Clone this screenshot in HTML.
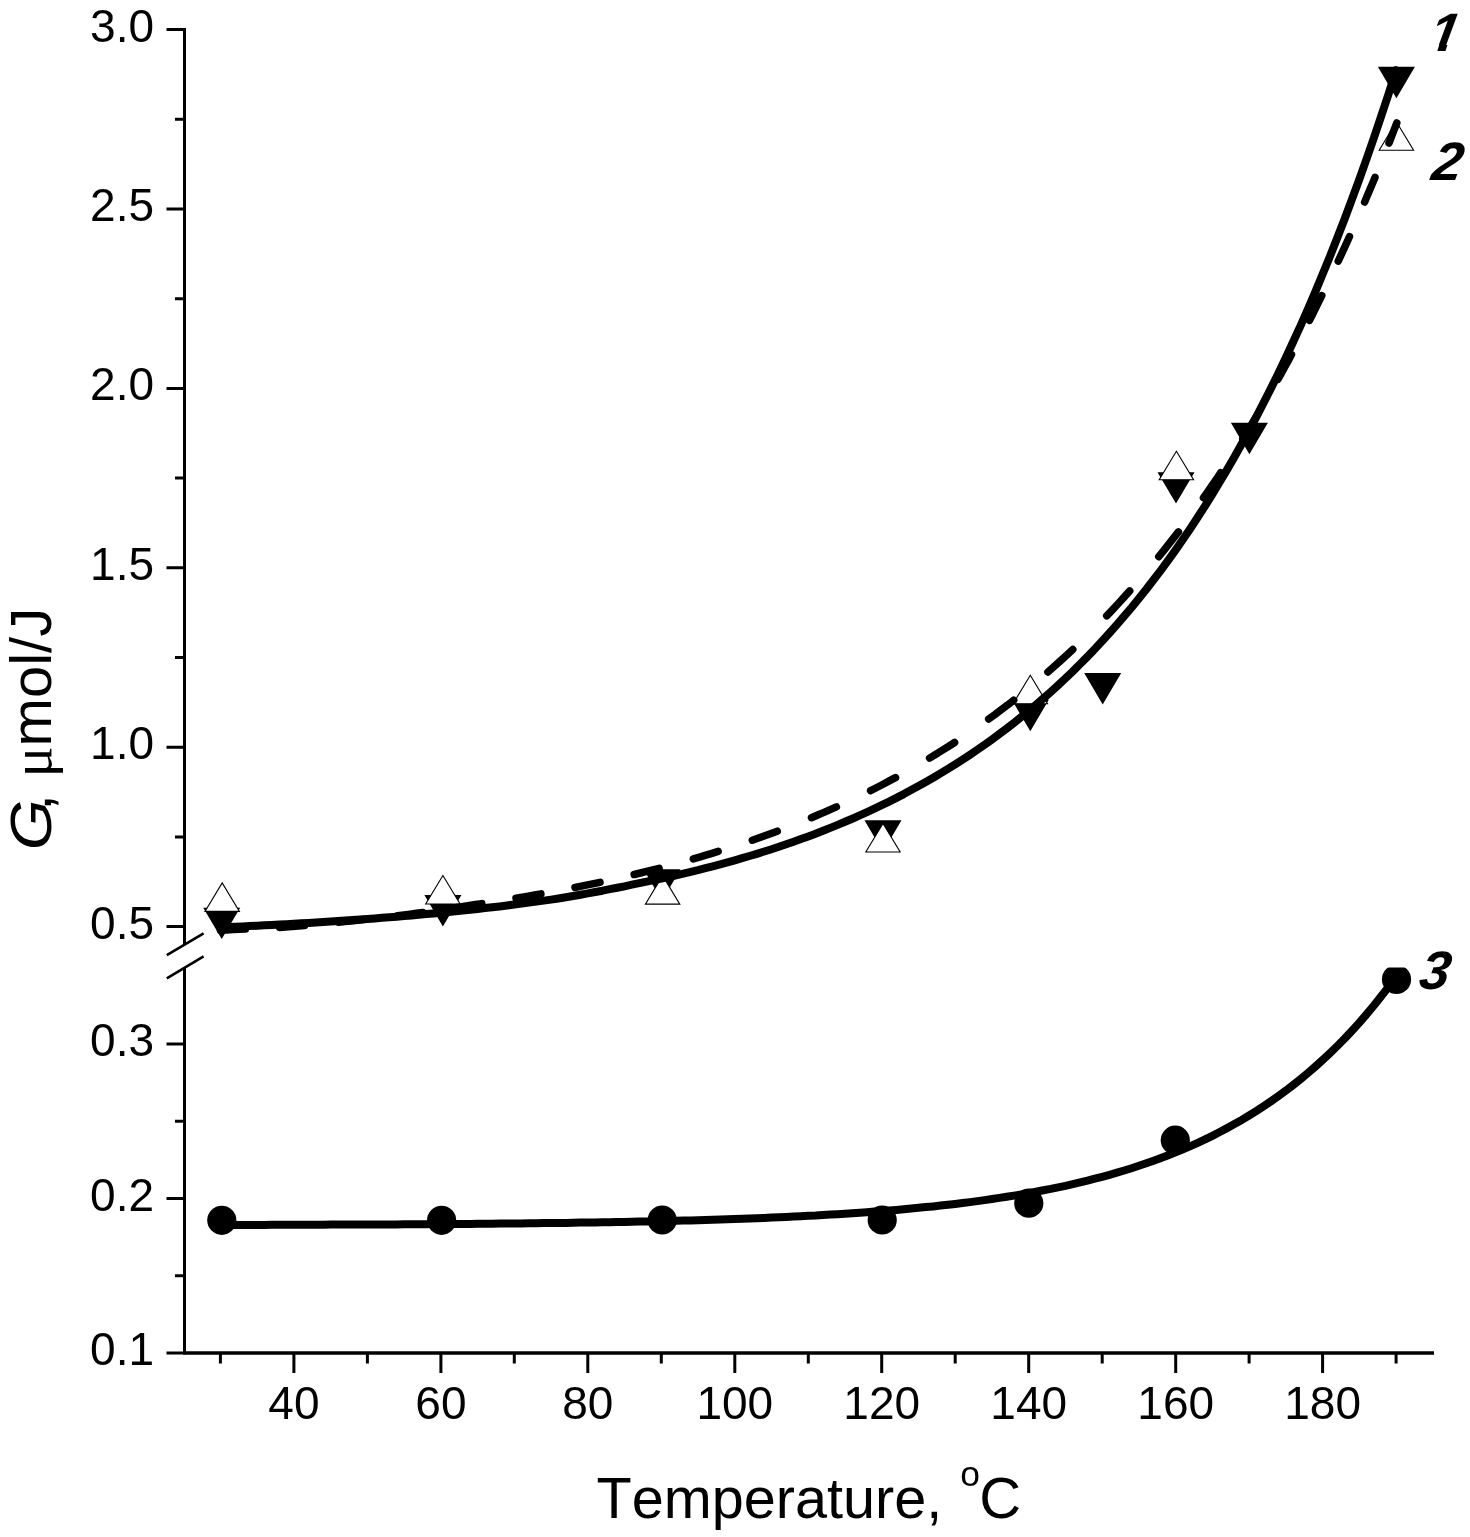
<!DOCTYPE html>
<html lang="en"><head><meta charset="utf-8"><title>G vs Temperature</title>
<style>html,body{margin:0;padding:0;background:#fff;overflow:hidden}svg{display:block}text{font-family:"Liberation Sans",Arial,sans-serif;fill:#000;font-kerning:none;white-space:pre}</style></head><body>
<svg width="1470" height="1537" viewBox="0 0 1470 1537">
<rect width="1470" height="1537" fill="#fff"/>
<g stroke="#000" stroke-width="3" fill="none" stroke-linecap="butt">
<path d="M184.5 28 V944.6 M184.5 967.7 V1354.5"/>
<path d="M183 1353 H1434" stroke-width="3.5"/>
<path d="M166.5 29.5 H183 M166.5 209 H183 M166.5 388.4 H183 M166.5 567.8 H183 M166.5 747.2 H183 M166.5 926.5 H183 M166.5 1044 H183 M166.5 1198.5 H183 M166.5 1353 H183 M175 119.2 H183 M175 298.7 H183 M175 478.1 H183 M175 657.5 H183 M175 836.9 H183 M175 1121.2 H183 M175 1275.8 H183"/>
<path d="M220.4 1354 V1363.5 M293.9 1354 V1373 M367.4 1354 V1363.5 M440.9 1354 V1373 M514.3 1354 V1363.5 M587.8 1354 V1373 M661.3 1354 V1363.5 M734.8 1354 V1373 M808.3 1354 V1363.5 M881.7 1354 V1373 M955.2 1354 V1363.5 M1028.7 1354 V1373 M1102.2 1354 V1363.5 M1175.7 1354 V1373 M1249.1 1354 V1363.5 M1322.6 1354 V1373 M1396.1 1354 V1363.5"/>
</g>
<path d="M166.8 955.2 L203.6 933.3 M166.8 978.4 L203.6 956.4" stroke="#000" stroke-width="2.6" fill="none"/>
<g font-size="46" text-anchor="end">
<text x="154" y="41.5">3.0</text>
<text x="154" y="221">2.5</text>
<text x="154" y="400.4">2.0</text>
<text x="154" y="579.8">1.5</text>
<text x="154" y="759.2">1.0</text>
<text x="154" y="938.5">0.5</text>
<text x="154" y="1056">0.3</text>
<text x="154" y="1210.5">0.2</text>
<text x="154" y="1365">0.1</text>
</g>
<g font-size="46" text-anchor="middle">
<text x="293.9" y="1418.5">40</text>
<text x="440.9" y="1418.5">60</text>
<text x="587.8" y="1418.5">80</text>
<text x="734.8" y="1418.5">100</text>
<text x="881.7" y="1418.5">120</text>
<text x="1028.7" y="1418.5">140</text>
<text x="1175.7" y="1418.5">160</text>
<text x="1322.6" y="1418.5">180</text>
</g>
<text y="1518" font-size="57.6"><tspan x="596.6">Temperature,</tspan><tspan x="960.3" y="1486.3" font-size="35.5">o</tspan><tspan x="979.3" y="1518" font-size="58">C</tspan></text>
<text transform="translate(50.5 850.3) rotate(-90) scale(1.126 1)" font-size="58" font-style="italic">G</text>
<text transform="translate(50.5 810.4) rotate(-90)" font-size="58">,</text>
<text transform="translate(50.5 777.5) rotate(-90)" font-size="58"><tspan font-family="'Liberation Serif','DejaVu Serif',serif">μ</tspan>mol/J</text>
<g fill="#000" stroke="#000" stroke-width="1.5" stroke-linejoin="miter" stroke-miterlimit="10">
<polygon points="204.5,908.4 238.9,908.4 221.7,937.6"/>
<polygon points="425.7,895.8 460.1,895.8 442.9,925"/>
<polygon points="644.8,870 679.2,870 662,899.2"/>
<polygon points="865.8,821 900.2,821 883,850.2"/>
<polygon points="1013.1,700.5 1047.5,700.5 1030.3,729.8"/>
<polygon points="1085.5,673.8 1119.9,673.8 1102.7,703"/>
<polygon points="1158.8,472.9 1193.2,472.9 1176,502.1"/>
<polygon points="1232.2,423.6 1266.6,423.6 1249.4,452.8"/>
<polygon points="1379.2,67.5 1413.6,67.5 1396.4,96.7"/>
</g>
<g fill="#fff" stroke="#000" stroke-width="1.1" stroke-linejoin="miter" stroke-miterlimit="10">
<polygon points="205,911.4 239.4,911.4 222.2,882.9"/>
<polygon points="425.7,904 460.1,904 442.9,875.5"/>
<polygon points="645.4,904.1 679.8,904.1 662.6,875.6"/>
<polygon points="865.8,852 900.2,852 883,823.5"/>
<polygon points="1013.1,703.7 1047.5,703.7 1030.3,675.2"/>
<polygon points="1159.2,479.7 1193.6,479.7 1176.4,451.2"/>
<polygon points="1379.2,150.2 1413.6,150.2 1396.4,121.7"/>
</g>
<clipPath id="lowclip"><rect x="186" y="967.5" width="1284" height="386"/></clipPath>
<g fill="#000" clip-path="url(#lowclip)">
<circle cx="221.8" cy="1220.3" r="14.6"/>
<circle cx="441.6" cy="1220.3" r="14.6"/>
<circle cx="662.2" cy="1220" r="14.6"/>
<circle cx="882.2" cy="1220" r="14.6"/>
<circle cx="1028.8" cy="1203.2" r="14.6"/>
<circle cx="1175.3" cy="1140.2" r="14.6"/>
<circle cx="1396.5" cy="979.4" r="14.6"/>
</g>
<path d="M220.4 927.4 L227.8 927.1 L235.1 926.7 L242.5 926.4 L249.8 926.1 L257.2 925.7 L264.5 925.3 L271.9 924.9 L279.2 924.6 L286.6 924.2 L293.9 923.7 L301.2 923.3 L308.6 922.9 L315.9 922.4 L323.3 922 L330.6 921.5 L338 921 L345.3 920.5 L352.7 920 L360 919.5 L367.4 919 L374.7 918.4 L382.1 917.8 L389.4 917.3 L396.8 916.7 L404.1 916 L411.5 915.4 L418.8 914.8 L426.2 914.1 L433.5 913.4 L440.9 912.7 L448.2 912 L455.6 911.2 L462.9 910.5 L470.3 909.7 L477.6 908.9 L484.9 908.1 L492.3 907.2 L499.6 906.4 L507 905.5 L514.3 904.5 L521.7 903.6 L529 902.6 L536.4 901.6 L543.7 900.6 L551.1 899.6 L558.4 898.5 L565.8 897.3 L573.1 896 L580.5 894.7 L587.8 893.4 L595.2 892 L602.5 890.7 L609.9 889.2 L617.2 887.8 L624.6 886.3 L631.9 884.7 L639.3 883.2 L646.6 881.7 L654 880.1 L661.3 878.6 L668.6 877 L676 875.3 L683.3 873.6 L690.7 871.8 L698 870.1 L705.4 868.2 L712.7 866.3 L720.1 864.4 L727.4 862.4 L734.8 860.3 L742.1 858.2 L749.5 856 L756.8 853.8 L764.2 851.5 L771.5 849.2 L778.9 846.7 L786.2 844.3 L793.6 841.7 L800.9 839.1 L808.3 836.4 L815.6 833.7 L823 830.8 L830.3 827.9 L837.7 824.9 L845 821.8 L852.3 818.7 L859.7 815.4 L867 812.1 L874.4 808.7 L881.7 805.2 L889.1 801.6 L896.4 797.9 L903.8 794.1 L911.1 790.1 L918.5 786.1 L925.8 782 L933.2 777.8 L940.5 773.4 L947.9 768.9 L955.2 764.3 L962.6 759.6 L969.9 754.8 L977.3 749.8 L984.6 744.7 L992 739.4 L999.3 734 L1006.7 728.5 L1014 722.8 L1021.4 716.9 L1028.7 710.9 L1036 704.8 L1043.4 698.4 L1050.7 691.9 L1058.1 685.2 L1065.4 678.3 L1072.8 671.3 L1080.1 664 L1087.5 656.6 L1094.8 649 L1102.2 641.1 L1109.5 633 L1116.9 624.7 L1124.2 616.2 L1131.6 607.5 L1138.9 598.5 L1146.3 589.3 L1153.6 579.8 L1161 570.1 L1168.3 560.1 L1175.7 549.8 L1183 539.2 L1190.4 528.4 L1197.7 517.3 L1205.1 505.8 L1212.4 494.1 L1219.7 482 L1227.1 469.6 L1234.4 456.9 L1241.8 443.8 L1249.1 430.4 L1256.5 416.6 L1263.8 402.4 L1271.2 387.9 L1278.5 372.9 L1285.9 357.6 L1293.2 341.8 L1300.6 325.6 L1307.9 309 L1315.3 291.9 L1322.6 274.3 L1330 256.3 L1337.3 237.8 L1344.7 218.7 L1352 199.2 L1359.4 179.1 L1366.7 158.5 L1374.1 137.3 L1381.4 115.5 L1388.8 93.2 L1396.1 70.2" fill="none" stroke="#000" stroke-width="8" stroke-linecap="round" stroke-linejoin="round"/>
<path d="M220.4 930.1 L226.7 929.9 L232.9 929.6 L239.2 929.3 L245.4 929.1 M279.6 927.4 L285.8 927.1 L292.1 926.6 L298.3 926 L304.5 925.5 M338.6 922.2 L344.9 921.6 L351.1 920.9 L357.4 920.3 L363.6 919.6 M397.7 915.7 L404 915 L410.2 914.2 L416.5 913.3 L422.7 912.5 M456.9 907.4 L463.1 906.5 L469.4 905.5 L475.6 904.5 L481.8 903.6 M516 898.2 L522.2 897.2 L528.4 896.1 L534.7 895 L540.9 893.9 M575 887.5 L581.3 886.2 L587.5 884.9 L593.8 883.6 L600 882.3 M634.2 874.5 L640.4 873 L646.7 871.4 L652.9 869.8 L659.1 868.3 M693.3 858.9 L699.5 857.1 L705.8 855.2 L712 853.3 L718.2 851.4 M752.3 840.2 L758.6 838 L764.8 835.8 L771.1 833.5 L777.3 831.2 M811.5 817.7 L817.7 815 L824 812.4 L830.2 809.6 L836.4 806.9 M870.6 790.6 L876.8 787.5 L883.1 784.2 L889.3 780.9 L895.5 777.6 M929.6 758.1 L935.9 754.3 L942.1 750.4 L948.4 746.5 L954.6 742.5 M988.7 719 L995 714.5 L1001.2 709.8 L1007.5 705.1 L1013.7 700.2 M1047.9 672 L1054.1 666.5 L1060.4 660.9 L1066.6 655.2 L1072.8 649.5 M1106.7 615.8 L1112.4 609.8 L1118.1 603.7 L1123.9 597.4 L1129.6 591 L1129.7 590.9 M1158.8 556.7 L1163.7 550.6 L1168.6 544.4 L1173.5 538.1 L1178.4 531.9 M1203.5 497.7 L1207.8 491.6 L1212 485.5 L1216.3 479.3 L1220.6 472.9 L1220.7 472.7 M1242.8 438.6 L1246.6 432.5 L1250.5 426.2 L1254.3 420 L1258 413.7 M1277.9 379.4 L1281.3 373.4 L1284.6 367.3 L1288 361.1 L1291.4 354.8 L1291.5 354.6 M1309.5 320.3 L1312.6 314.2 L1315.6 308 L1318.7 301.8 L1321.8 295.6 M1338.2 261.2 L1341 255.2 L1343.8 249.1 L1346.6 243 L1349.4 236.8 L1349.5 236.5 M1364.6 202.1 L1367.1 196.1 L1369.7 190 L1372.3 183.9 L1374.9 177.7 L1375 177.4 M1389 143 L1391 138 L1392.9 132.9 L1394.9 127.9 L1396.8 122.9" fill="none" stroke="#000" stroke-width="7.5" stroke-linecap="round" stroke-linejoin="round"/>
<path d="M220.4 1225 L227.8 1224.9 L235.1 1224.9 L242.5 1224.9 L249.8 1224.9 L257.2 1224.9 L264.5 1224.9 L271.9 1224.8 L279.2 1224.8 L286.6 1224.8 L293.9 1224.8 L301.2 1224.7 L308.6 1224.7 L315.9 1224.7 L323.3 1224.7 L330.6 1224.6 L338 1224.6 L345.3 1224.6 L352.7 1224.6 L360 1224.5 L367.4 1224.5 L374.7 1224.5 L382.1 1224.4 L389.4 1224.4 L396.8 1224.4 L404.1 1224.3 L411.5 1224.3 L418.8 1224.2 L426.2 1224.2 L433.5 1224.1 L440.9 1224.1 L448.2 1224 L455.6 1224 L462.9 1223.9 L470.3 1223.9 L477.6 1223.8 L484.9 1223.7 L492.3 1223.7 L499.6 1223.6 L507 1223.5 L514.3 1223.5 L521.7 1223.4 L529 1223.3 L536.4 1223.2 L543.7 1223.1 L551.1 1223 L558.4 1223 L565.8 1222.9 L573.1 1222.8 L580.5 1222.6 L587.8 1222.5 L595.2 1222.4 L602.5 1222.3 L609.9 1222.2 L617.2 1222 L624.6 1221.9 L631.9 1221.8 L639.3 1221.6 L646.6 1221.5 L654 1221.3 L661.3 1221.1 L668.6 1221 L676 1220.8 L683.3 1220.6 L690.7 1220.4 L698 1220.2 L705.4 1220 L712.7 1219.7 L720.1 1219.5 L727.4 1219.3 L734.8 1219 L742.1 1218.8 L749.5 1218.5 L756.8 1218.2 L764.2 1217.9 L771.5 1217.6 L778.9 1217.3 L786.2 1216.9 L793.6 1216.6 L800.9 1216.2 L808.3 1215.8 L815.6 1215.5 L823 1215 L830.3 1214.6 L837.7 1214.2 L845 1213.7 L852.3 1213.2 L859.7 1212.7 L867 1212.2 L874.4 1211.6 L881.7 1211.1 L889.1 1210.5 L896.4 1209.9 L903.8 1209.2 L911.1 1208.5 L918.5 1207.8 L925.8 1207.1 L933.2 1206.4 L940.5 1205.6 L947.9 1204.7 L955.2 1203.9 L962.6 1203 L969.9 1202.1 L977.3 1201.1 L984.6 1200.1 L992 1199 L999.3 1197.9 L1006.7 1196.8 L1014 1195.6 L1021.4 1194.4 L1028.7 1193.1 L1036 1191.7 L1043.4 1190.3 L1050.7 1188.9 L1058.1 1187.3 L1065.4 1185.8 L1072.8 1184.1 L1080.1 1182.4 L1087.5 1180.6 L1094.8 1178.7 L1102.2 1176.8 L1109.5 1174.8 L1116.9 1172.7 L1124.2 1170.5 L1131.6 1168.2 L1138.9 1165.8 L1146.3 1163.3 L1153.6 1160.7 L1161 1158 L1168.3 1155.2 L1175.7 1152.3 L1183 1149.3 L1190.4 1146.1 L1197.7 1142.8 L1205.1 1139.4 L1212.4 1135.8 L1219.7 1132 L1227.1 1128.1 L1234.4 1124.1 L1241.8 1119.9 L1249.1 1115.5 L1256.5 1110.9 L1263.8 1106.1 L1271.2 1101.1 L1278.5 1096 L1285.9 1090.6 L1293.2 1085 L1300.6 1079.1 L1307.9 1073 L1315.3 1066.6 L1322.6 1060 L1330 1053.1 L1337.3 1046 L1344.7 1038.5 L1352 1030.7 L1359.4 1022.6 L1366.7 1014.1 L1374.1 1005.3 L1381.4 996.1 L1388.8 986.6 L1396.1 976.6" fill="none" stroke="#000" stroke-width="8" stroke-linecap="round" stroke-linejoin="round"/>
<g font-size="54" font-weight="bold" font-style="italic">
<clipPath id="c1f"><polygon points="1420,0 1470,0 1470,44.9 1447.4,44.9 1445.2,52 1437,52 1439.2,44.9 1420,44.9"/></clipPath><g clip-path="url(#c1f)"><text transform="translate(1426.5 51) skewX(-10)">1</text></g><text transform="translate(1430 180) skewX(-10)">2</text><text transform="translate(1417.5 989) skewX(-10)">3</text>
</g>
</svg></body></html>
